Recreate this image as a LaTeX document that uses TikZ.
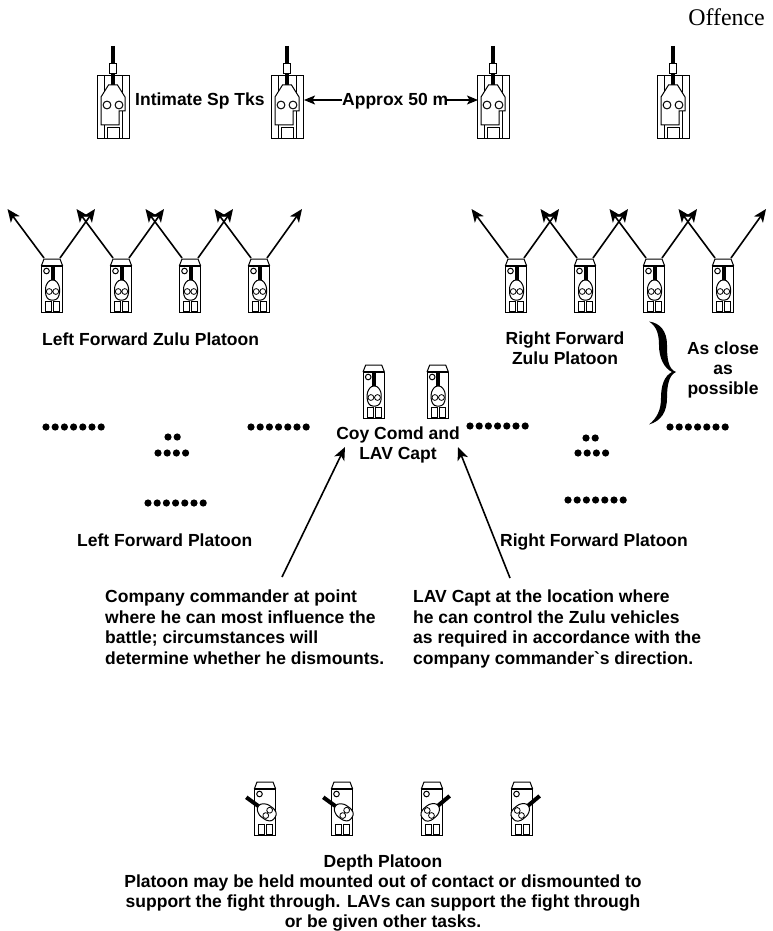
\documentclass[tikz,border=0pt]{standalone}
\usepackage{fontspec}
\newfontfamily\labfont{Liberation Sans}
\newfontfamily\serfont{Liberation Serif}
\usetikzlibrary{arrows.meta}
\tikzset{
  lab/.style={font=\labfont\bfseries\fontsize{17.5}{20}\selectfont,inner sep=0pt,text=black},
  thin part/.style={draw=black,line width=1pt,fill=white},
  barrel/.style={draw=black,line width=4pt,line cap=butt},
  arr/.style={draw=black,line width=1.6pt,-{Stealth[length=13pt,width=11pt,inset=3.5pt]}},
  dbl/.style={draw=black,line width=1.4pt,-{Stealth[length=11pt,width=9pt,inset=2.5pt]}},
  dotmark/.style={fill=black,draw=none},
  turret/.pic={
    \draw[barrel] (0,-25) -- (0,-8);
    \draw[thin part,rounded corners=2.5pt] (-3,-10) -- (3,-10) -- (7,-4) -- (7,5) -- (4,10) -- (-4,10) -- (-7,5) -- (-7,-4) -- cycle;
    \draw[thin part,line width=0.8pt] (-3.3,1.5) circle (2.9) (3.3,1.5) circle (2.9);
  },
  vehiclebody/.pic={
    \draw[thin part] (-10.7,0) rectangle (10.7,46);
    \draw[thin part] (-10.7,0) -- (-8,-7) -- (8,-7) -- (10.7,0);
    \draw[black,line width=1.4pt] (-10.7,0) -- (10.7,0);
    \draw[thin part] (-5.5,5) circle (2.8);
    \draw[thin part] (-6.5,35) rectangle (-0.5,45);
    \draw[thin part] (1.5,35) rectangle (7.5,45);
  },
  lav/.pic={
    \pic at (0,0) {vehiclebody};
    \pic at (0.5,24) {turret};
    \coordinate (-a) at (-8,-8);
    \coordinate (-b) at (8,-8);
    \coordinate (-ta) at (-44.5,-57);
    \coordinate (-tb) at (43,-57);
  },
  lavl/.pic={
    \pic at (0,0) {vehiclebody};
    \pic[rotate=54] at (1.5,23) {turret};
  },
  lavr/.pic={
    \pic at (0,0) {vehiclebody};
    \pic[rotate=-50] at (-1.5,23) {turret};
  },
  tank/.pic={
    \draw[barrel] (0,-30) -- (0,-12);
    \draw[thin part] (-3.2,-12) rectangle (3.2,-2);
    \draw[thin part] (-16,0) rectangle (16,62);
    \draw[thin part] (-9,0) -- (-9,62) (9,0) -- (9,62);
    \draw[barrel] (0,-2) -- (0,9);
    \draw[thin part] (-4.5,9) -- (4.5,9) -- (12,21) -- (12,35) -- (6,35) -- (6,49) -- (-12,49) -- (-12,21) -- cycle;
    \draw[thin part] (-6,29) circle (3.9) (6,29) circle (3.9);
    \draw[thin part] (-6,62) -- (-6,52) -- (6,52) -- (6,62);
  },
}
\newcommand{\dotrow}[3]{%
  \foreach \n in {1,...,#3}{\fill[dotmark] ({#1+(\n-1)*9.2},#2) circle (3.6);}%
}
\begin{document}
\begin{tikzpicture}[x=1pt,y=-1pt]
\useasboundingbox (0,0) rectangle (773,931);
\pic (T1) at (113,76) {tank};
\pic (T2) at (287,76) {tank};
\pic (T3) at (493,76) {tank};
\pic (T4) at (673,76) {tank};
\coordinate (apl) at (342,100);
\coordinate (apr) at (446,100);
\coordinate (t2r) at (304,100);
\coordinate (t3l) at (478,100);
\draw[dbl] (apl) -- (t2r);
\draw[dbl] (apr) -- (t3l);
\foreach \x/\m in {52/L1,121/L2,190/L3,259/L4,516/R1,585/R2,654/R3,723/R4}{
  \pic (\m) at (\x,266) {lav};
  \draw[arr] (\m-a) -- (\m-ta);
  \draw[arr] (\m-b) -- (\m-tb);
}
\pic (C1) at (373.7,372) {lav};
\pic (C2) at (437.7,372) {lav};
\pic (D1) at (265,789) {lavl};
\pic (D2) at (342,789) {lavl};
\pic (D3) at (432,789) {lavr};
\pic (D4) at (522,789) {lavr};
\dotrow{46}{427}{7}
\dotrow{168}{437}{2}
\dotrow{158}{453}{4}
\dotrow{148}{503}{7}
\dotrow{251}{427}{7}
\dotrow{470}{426}{7}
\dotrow{586}{438}{2}
\dotrow{578}{453}{4}
\dotrow{568}{500}{7}
\dotrow{670}{427}{7}
\fill[black] (649,321.5) .. controls (660,323) and (667,331) .. (667,345)
  .. controls (667,358) and (668,369) .. (676,372)
  .. controls (669,375) and (667,385) .. (667,398)
  .. controls (667,412) and (661,421) .. (649,424.5)
  .. controls (657,418) and (661,410) .. (661,398)
  .. controls (661,386) and (664,376) .. (672,372)
  .. controls (664,368) and (659,358) .. (659,345)
  .. controls (659,333) and (656,326) .. (649,321.5) -- cycle;
\coordinate (cl) at (282,577);
\coordinate (cr) at (510,578);
\coordinate (cle) at (345,447);
\coordinate (cre) at (458,447);
\draw[arr] (cl) -- (cle);
\draw[arr] (cr) -- (cre);
\node[font=\serfont\fontsize{23.9}{26}\selectfont,inner sep=0pt,anchor=base east] (off) at (765,26) {Offence};
\node[lab,anchor=base west] (n1) at (135,106) {Intimate Sp Tks};
\node[lab,anchor=base west] (n2) at (342,106) {Approx 50 m};
\node[lab,anchor=base west] (n3) at (42,345) {Left Forward Zulu Platoon};
\node[lab,align=center,anchor=base] (n4) at (565,364) {Right Forward\\Zulu Platoon};
\node[lab,align=center,anchor=base] (n5) at (723,394) {As close\\as\\possible};
\node[lab,align=center,anchor=base] (n6) at (398,459) {Coy Comd and\\LAV Capt};
\node[lab,anchor=base west] (n7) at (77,546) {Left Forward Platoon};
\node[lab,anchor=base west] (n8) at (500,546) {Right Forward Platoon};
\node[lab,align=left,anchor=base west,font=\labfont\bfseries\fontsize{17.5}{20.5}\selectfont] (n9) at (105,664) {Company commander at point\\where he can most influence the\\battle; circumstances will\\determine whether he dismounts.};
\node[lab,align=left,anchor=base west,font=\labfont\bfseries\fontsize{17.5}{20.5}\selectfont] (n10) at (413,664) {LAV Capt at the location where\\he can control the Zulu vehicles\\as required in accordance with the\\company commander`s direction.};
\node[lab,align=center,anchor=base] (n11) at (383,927.5) {Depth Platoon\\Platoon may be held mounted out of contact or dismounted to\\support the fight through. LAVs can support the fight through\\or be given other tasks.};
\end{tikzpicture}
\end{document}
